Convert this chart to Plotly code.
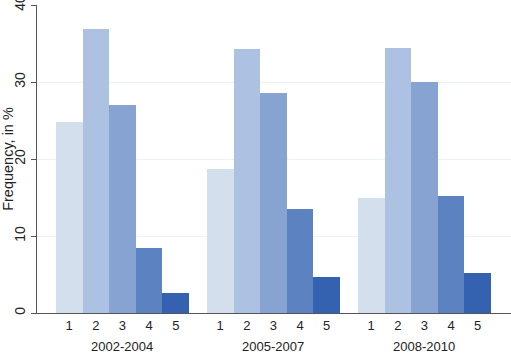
import plotly.graph_objects as go

periods = ["2002-2004", "2005-2007", "2008-2010"]
categories = ["1", "2", "3", "4", "5"]
values = {
    "2002-2004": [24.8, 36.9, 27.0, 8.4, 2.6],
    "2005-2007": [18.7, 34.3, 28.6, 13.5, 4.7],
    "2008-2010": [15.0, 34.4, 30.0, 15.2, 5.2],
}
colors = ["#d4dfed", "#adc2e2", "#86a3d1", "#5c82c2", "#3462b1"]
group_pitch = 5.67

fig = go.Figure()
for k, cat in enumerate(categories):
    xs = [g * group_pitch + k for g in range(len(periods))]
    ys = [values[p][k] for p in periods]
    fig.add_trace(go.Bar(x=xs, y=ys, width=1.0, marker=dict(color=colors[k], line=dict(width=0)),
                         name=cat, showlegend=False))

tickvals = [g * group_pitch + k for g in range(len(periods)) for k in range(len(categories))]
ticktext = [c for _ in periods for c in categories]

for g, p in enumerate(periods):
    fig.add_annotation(x=g * group_pitch + 2, y=0, xref="x", yref="paper", text=p,
                       showarrow=False, yanchor="top", yshift=-24,
                       font=dict(family="Liberation Sans, Arial", size=13, color="#222"))

fig.update_layout(
    width=511, height=357,
    margin=dict(l=37, r=0, t=5, b=44),
    paper_bgcolor="white", plot_bgcolor="white",
    bargap=0,
    font=dict(family="Liberation Sans, Arial", size=13, color="#222"),
    xaxis=dict(range=[-1.21, 2 * group_pitch + 4 + 1.25], tickvals=tickvals, ticktext=ticktext,
               showgrid=False, zeroline=False, showline=True, linecolor="#555", linewidth=1,
               ticks="", tickfont=dict(size=13), automargin=False),
    yaxis=dict(range=[0, 40], tickvals=[0, 10, 20, 30, 40], tickangle=-90,
               ticklabeloverflow="allow", automargin=False,
               showgrid=True, gridcolor="#eef1f4", gridwidth=1, zeroline=False,
               showline=True, linecolor="#555", linewidth=1, ticks="outside", ticklen=5,
               tickcolor="#555", tickfont=dict(size=14),
               title=dict(text="Frequency, in %", standoff=2, font=dict(size=14.5))),
)

fig.write_html("out.html")
